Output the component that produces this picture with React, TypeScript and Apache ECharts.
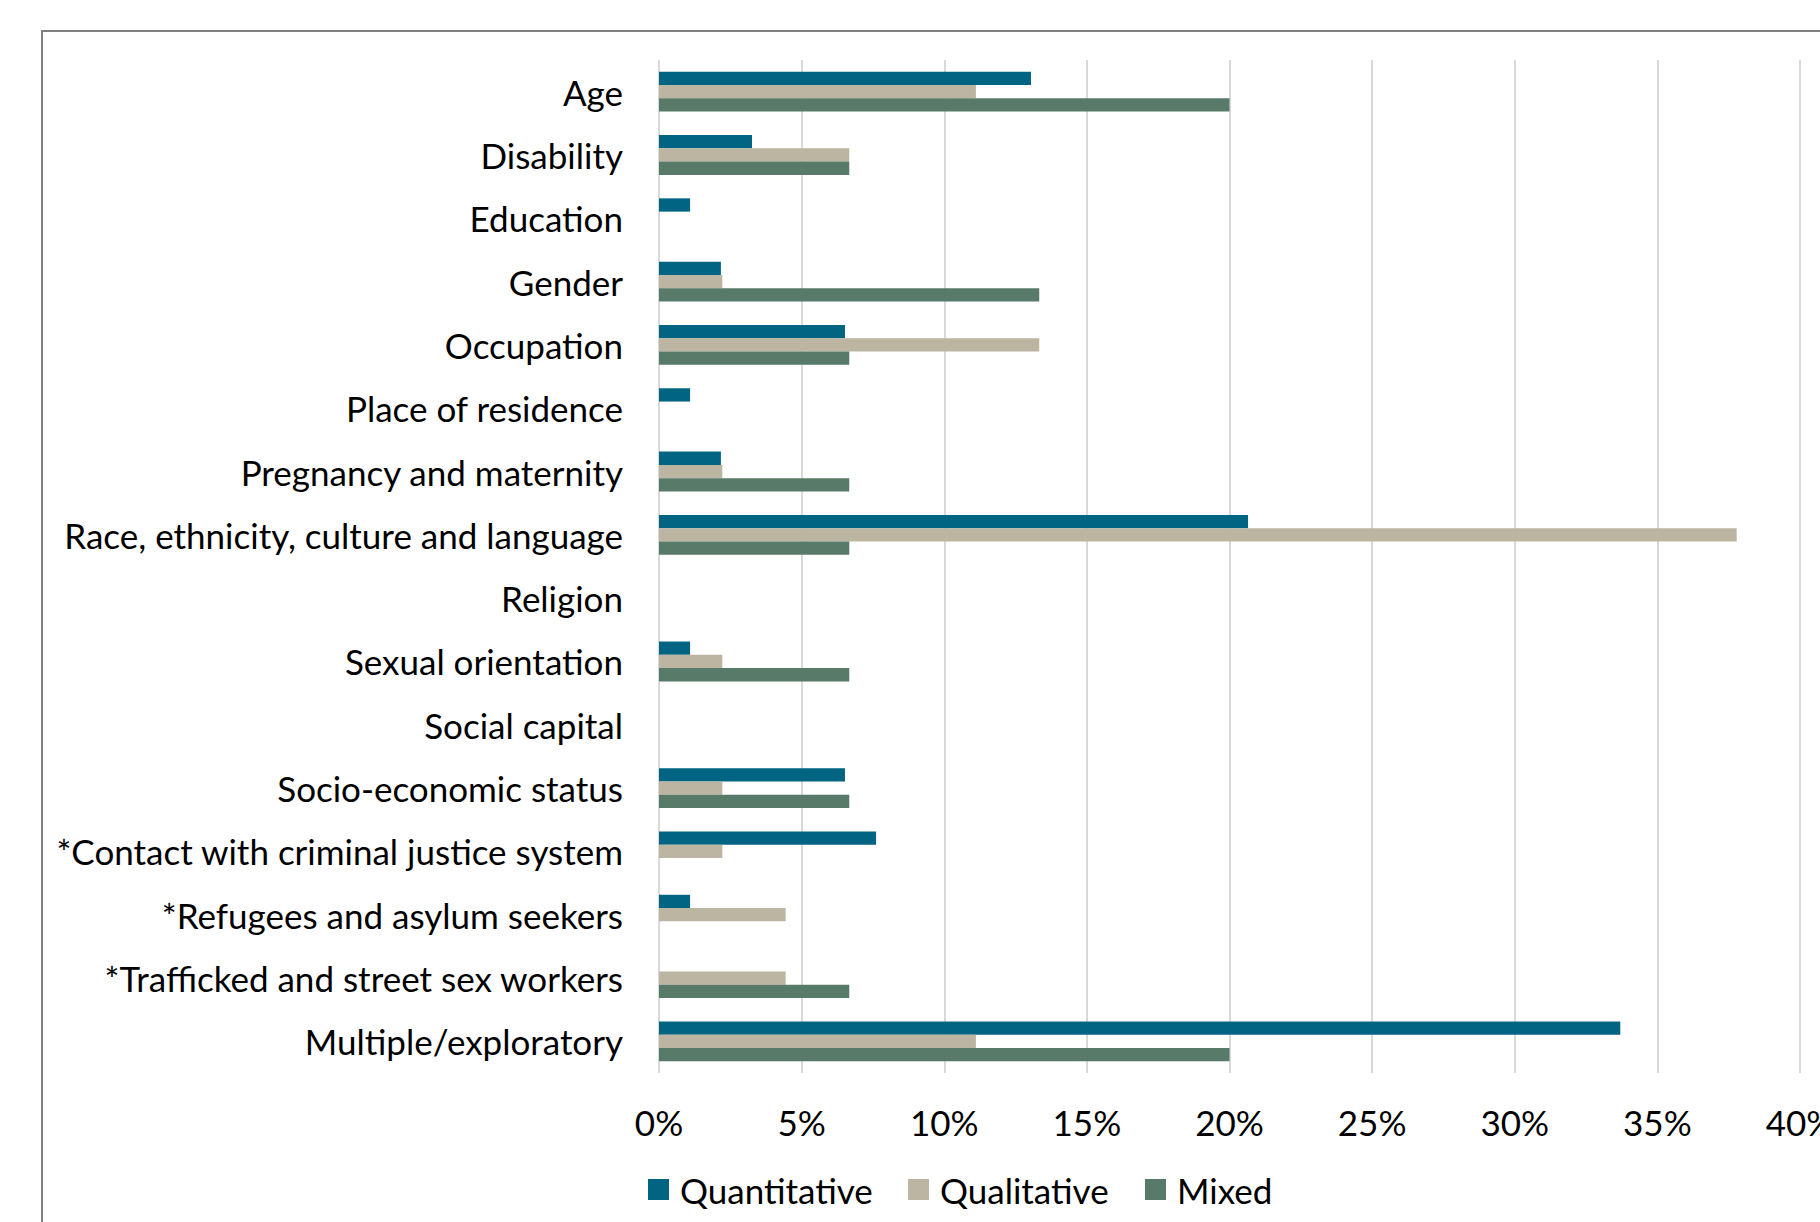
import React, { useEffect, useRef } from "react";
import * as echarts from "echarts";

// Share of studies (%) addressing each dimension, by study design
const categories = [
  "Age",
  "Disability",
  "Education",
  "Gender",
  "Occupation",
  "Place of residence",
  "Pregnancy and maternity",
  "Race, ethnicity, culture and language",
  "Religion",
  "Sexual orientation",
  "Social capital",
  "Socio-economic status",
  "*Contact with criminal justice system",
  "*Refugees and asylum seekers",
  "*Trafficked and street sex workers",
  "Multiple/exploratory",
];

const quantitative = [13.04, 3.26, 1.09, 2.17, 6.52, 1.09, 2.17, 20.65, 0, 1.09, 0, 6.52, 7.61, 1.09, 0, 33.7];
const qualitative = [11.11, 6.67, 0, 2.22, 13.33, 0, 2.22, 37.78, 0, 2.22, 0, 2.22, 2.22, 4.44, 4.44, 11.11];
const mixed = [20.0, 6.67, 0, 13.33, 6.67, 0, 6.67, 6.67, 0, 6.67, 0, 6.67, 0, 0, 6.67, 20.0];

const seriesNames = ["Quantitative", "Qualitative", "Mixed"];
const seriesColors = ["#006482", "#BBB5A2", "#577A69"];

const FONT = "Lato, 'Noto Sans', sans-serif";
const FONT_SIZE = 35;

export default function App() {
  const ref = useRef<HTMLDivElement>(null);

  useEffect(() => {
    if (!ref.current) return;
    const chart = echarts.init(ref.current, null, { renderer: "svg" });
    const values = [quantitative, qualitative, mixed];
    const legendLefts = [648, 908, 1145];

    chart.setOption({
      animation: false,
      backgroundColor: "#ffffff",
      textStyle: { fontFamily: FONT },
      graphic: [
        {
          type: "rect",
          shape: { x: 42, y: 31, width: 1840, height: 1240 },
          style: { fill: "none", stroke: "#7f7f7f", lineWidth: 2 },
          silent: true,
        },
      ],
      grid: {
        left: 659,
        right: 20,
        top: 60,
        bottom: 149,
        containLabel: false,
        outerBoundsMode: "none",
      },
      legend: seriesNames.map((name, i) => ({
        data: [name],
        left: legendLefts[i],
        top: 1172,
        padding: 0,
        icon: "rect",
        itemWidth: 21,
        itemHeight: 21,
        selectedMode: false,
        textStyle: { fontFamily: FONT, fontSize: FONT_SIZE, color: "#000", padding: [0, 0, 0, 6] },
      })),
      xAxis: {
        type: "value",
        min: 0,
        max: 40,
        interval: 5,
        axisLine: { show: false },
        axisTick: { show: false },
        splitLine: { show: true, lineStyle: { color: "#d9d9d9", width: 2 } },
        axisLabel: {
          formatter: "{value}%",
          fontFamily: FONT,
          fontSize: FONT_SIZE,
          color: "#000",
          margin: 31,
          showMaxLabel: true,
          hideOverlap: false,
        },
      },
      yAxis: {
        type: "category",
        data: categories,
        inverse: true,
        axisLine: { show: false },
        axisTick: { show: false },
        splitLine: { show: false },
        axisLabel: {
          fontFamily: FONT,
          fontSize: FONT_SIZE,
          color: "#000",
          margin: 36,
          interval: 0,
        },
      },
      series: seriesNames.map((name, i) => ({
        name,
        type: "bar",
        data: values[i],
        itemStyle: { color: seriesColors[i] },
        barGap: "0%",
        barCategoryGap: "37%",
      })),
    });

    return () => chart.dispose();
  }, []);

  return (
    <div
      ref={ref}
      style={{ position: "absolute", left: 0, top: 0, width: 1820, height: 1222 }}
    />
  );
}
